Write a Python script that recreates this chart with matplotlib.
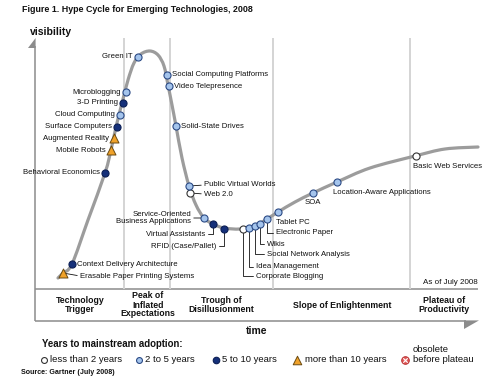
import matplotlib
matplotlib.use("Agg")
import matplotlib.pyplot as plt
from matplotlib.path import Path
from matplotlib.patches import PathPatch, Polygon
import numpy as np

plt.rcParams['font.family'] = ['Liberation Sans', 'DejaVu Sans']

# ---------------- data ----------------
technologies = [
    "Erasable Paper Printing Systems", "Context Delivery Architecture",
    "Behavioral Economics", "Mobile Robots", "Augmented Reality",
    "Surface Computers", "Cloud Computing", "3-D Printing", "Microblogging",
    "Green IT", "Social Computing Platforms", "Video Telepresence",
    "Solid-State Drives", "Public Virtual Worlds", "Web 2.0",
    "Service-Oriented\nBusiness Applications", "Virtual Assistants",
    "RFID (Case/Pallet)", "Corporate Blogging", "Idea Management",
    "Social Network Analysis", "Wikis", "Electronic Paper", "Tablet PC",
    "SOA", "Location-Aware Applications", "Basic Web Services",
]
time_pos = [27, 36, 69, 75, 78, 81, 84, 87, 90, 102, 131, 133, 140, 153, 154,
            168, 177, 188, 207, 213, 219, 224, 231, 242, 277, 301, 380]
visibility = [16, 25, 116, 139, 151, 162, 174, 186, 197, 232, 214, 203, 163,
              103, 96, 71, 65, 60, 60, 61, 63, 65, 70, 77, 96, 107, 133]
adoption = ["gt10", "5to10", "5to10", "gt10", "gt10", "5to10", "2to5", "5to10",
            "2to5", "2to5", "2to5", "2to5", "2to5", "2to5", "lt2", "2to5",
            "5to10", "5to10", "lt2", "2to5", "2to5", "2to5", "2to5", "2to5",
            "2to5", "2to5", "lt2"]

# hype curve shape (time, visibility)
curve_time = [22, 27, 36, 52, 69, 75, 80, 86, 92, 98, 105, 114, 122, 128, 132,
              136, 140, 146, 153, 160, 168, 177, 188, 204, 219, 231, 242, 259,
              277, 301, 334, 379, 409, 442]
curve_vis = [11, 16, 25, 69, 116, 139, 162, 186, 209, 226, 235, 238, 234, 223,
             204, 184, 163, 131, 103, 84, 71, 65, 61, 60, 63, 70, 77, 87, 96,
             107, 121, 133, 140, 142]

phase_names = ["Technology\nTrigger", "Peak of\nInflated\nExpectations",
               "Trough of\nDisillusionment", "Slope of Enlightenment",
               "Plateau of\nProductivity"]
phase_bounds = [88, 134, 237, 374]

legend_keys = ["lt2", "2to5", "5to10", "gt10", "obs"]
legend_labels = ["less than 2 years", "2 to 5 years", "5 to 10 years",
                 "more than 10 years", "obsolete\nbefore plateau"]

# ---------------- label layout (pixel offsets from marker) ----------------
label_dx = [17, 5, -5, -5, -5, -5, -5, -5, -5, -5, 5, 5, 5, 15, 14,
            -13, -8, -8, 13, 7, 12, 7, 9, -2, 0, -4, -3]
label_dy = [-3, -1, 0, 0, 0, 0, 0, 0, 0, 0, 0, 0, -1, 1, -1,
            0, -10, -17, -47, -39, -28, -20, -14, -10, -10, -11, -10]
label_ha = ["left", "left", "right", "right", "right", "right", "right",
            "right", "right", "right", "left", "left", "left", "left", "left",
            "right", "right", "right", "left", "left", "left", "left", "left",
            "left", "center", "left", "left"]
label_conn = ["line", None, None, None, None, None, None, None, None, None,
              None, None, None, "line", "line", "line", "elbow", "elbow",
              "elbow", "elbow", "elbow", "elbow", "elbow", None, None, None,
              None]

styles = {
    "lt2": dict(marker="o", s=26, facecolor="white", edgecolor="#333333", linewidths=0.8),
    "2to5": dict(marker="o", s=26, facecolor="#a4c4ec", edgecolor="#2b4a85", linewidths=0.8),
    "5to10": dict(marker="o", s=26, facecolor="#15307a", edgecolor="#0c1f55", linewidths=0.8),
    "gt10": dict(marker="^", s=42, facecolor="#f0a22a", edgecolor="#6b4a10", linewidths=0.7),
    "obs": dict(marker="o", s=30, facecolor="#e25a5a", edgecolor="#b83030", linewidths=0.7),
}

W, H = 490, 386
fig = plt.figure(figsize=(W / 100, H / 100), dpi=100)

# canvas in image pixel coordinates for frame decorations
cv = fig.add_axes([0, 0, 1, 1], zorder=0)
cv.set_xlim(0, W)
cv.set_ylim(H, 0)
cv.axis("off")

# data axes (time vs visibility)
ax = fig.add_axes([36 / W, (H - 289) / H, 442 / W, 251 / H], zorder=1)
ax.set_xlim(0, 442)
ax.set_ylim(0, 251)
ax.axis("off")
ax.patch.set_alpha(0)

axis_col = "#8c8c8c"
# y axis with half arrow
cv.plot([35, 35], [46, 321], color=axis_col, lw=1.1, solid_capstyle="butt")
cv.add_patch(Polygon([(35.6, 38), (28, 48), (35.6, 48)], closed=True,
                     color=axis_col, lw=0))
# bottom line with arrow
cv.plot([35, 466], [321, 321], color=axis_col, lw=1.1, solid_capstyle="butt")
cv.add_patch(Polygon([(464, 320.4), (479, 320.4), (464, 329)], closed=True,
                     color=axis_col, lw=0))
# line above phase names
cv.plot([35, 478], [289, 289], color=axis_col, lw=1.1, solid_capstyle="butt")

# phase separators
ax.vlines(phase_bounds, 0, 251, color="#d4d4d4", lw=1.4, zorder=1)

# hype curve via Catmull-Rom -> Bezier path
pts = np.column_stack([curve_time, curve_vis]).astype(float)
verts = [tuple(pts[0])]
codes = [Path.MOVETO]
n = len(pts)
for i in range(n - 1):
    p0 = pts[i - 1] if i > 0 else pts[i]
    p1 = pts[i]
    p2 = pts[i + 1]
    p3 = pts[i + 2] if i + 2 < n else pts[i + 1]
    c1 = p1 + (p2 - p0) / 6.0
    c2 = p2 - (p3 - p1) / 6.0
    verts += [tuple(c1), tuple(c2), tuple(p2)]
    codes += [Path.CURVE4] * 3
ax.add_patch(PathPatch(Path(verts, codes), facecolor="none",
                       edgecolor="#9c9c9c", lw=2.3, capstyle="round",
                       zorder=2, clip_on=False))

# markers
for key in ["lt2", "2to5", "5to10", "gt10"]:
    idx = [i for i, a in enumerate(adoption) if a == key]
    ax.scatter([time_pos[i] for i in idx], [visibility[i] for i in idx],
               zorder=5, clip_on=False, **styles[key])

# labels
lab_fs = 5.6
for i, name in enumerate(technologies):
    kw = dict(xy=(time_pos[i], visibility[i]), xytext=(label_dx[i], label_dy[i]),
              textcoords="offset pixels", ha=label_ha[i], va="center",
              fontsize=lab_fs, color="#111111", zorder=4,
              linespacing=1.05, annotation_clip=False)
    conn = label_conn[i]
    if conn is not None:
        rel = (0, 0.5) if label_ha[i] == "left" else (1, 0.5)
        cs = "arc3,rad=0" if conn == "line" else "angle,angleA=0,angleB=90,rad=0"
        kw["arrowprops"] = dict(arrowstyle="-", color="#111111", lw=0.6,
                                relpos=rel, shrinkA=0, shrinkB=0,
                                connectionstyle=cs)
    ax.annotate(name, **kw)

# phase names
phase_x = [80, 148, 221, 342, 444]
for px, name in zip(phase_x, phase_names):
    cv.text(px, 305, name, ha="center", va="center", fontsize=6.3,
            fontweight="bold", linespacing=1.0, color="#111111")

cv.text(478, 282, "As of July 2008", ha="right", va="center", fontsize=5.8,
        color="#111111")

# texts
cv.text(22, 10, "Figure 1. Hype Cycle for Emerging Technologies, 2008",
        ha="left", va="center", fontsize=6.4, fontweight="bold", color="#111111")
cv.text(30, 32, "visibility", ha="left", va="center", fontsize=7.5,
        fontweight="bold", color="#111111")
cv.text(257, 331, "time", ha="center", va="center", fontsize=7.5,
        fontweight="bold", color="#111111")
cv.text(42, 344, "Years to mainstream adoption:", ha="left", va="center",
        fontsize=6.9, fontweight="bold", color="#111111")
cv.text(21, 372, "Source: Gartner (July 2008)", ha="left", va="center",
        fontsize=5.1, fontweight="bold", color="#111111")

# legend
leg_mx = [44, 139, 216, 297, 405]
leg_tx = [50, 145, 222, 305, 413]
leg_sizes = {"lt2": 18, "2to5": 18, "5to10": 22, "gt10": 38, "obs": 30}
for key, lab, mx, tx in zip(legend_keys, legend_labels, leg_mx, leg_tx):
    st = dict(styles[key])
    st["s"] = leg_sizes[key]
    cv.scatter([mx], [360], zorder=5, **st)
    if key == "obs":
        cv.scatter([mx], [360], marker="x", s=10, color="white",
                   linewidths=0.8, zorder=6)
        cv.text(tx, 354.5, lab, ha="left", va="center", fontsize=6.8,
                linespacing=1.25, color="#111111")
    else:
        cv.text(tx, 360, lab, ha="left", va="center", fontsize=6.8,
                color="#111111")

fig.savefig("out.png", dpi=100)
